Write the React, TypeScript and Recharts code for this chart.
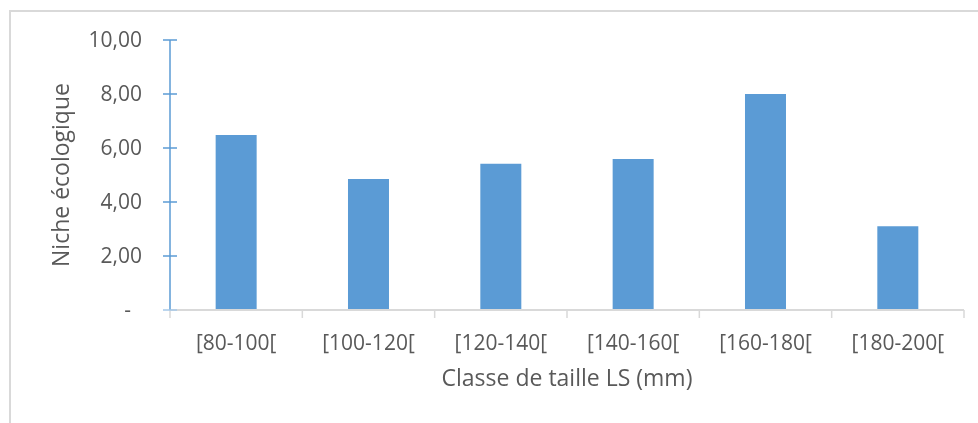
import { Bar, BarChart, Label, XAxis, YAxis } from "recharts";

const categories = ["[80-100[", "[100-120[", "[120-140[", "[140-160[", "[160-180[", "[180-200["];
const nicheValues = [6.48, 4.85, 5.42, 5.59, 8.0, 3.1];
const yTicks = [0, 2, 4, 6, 8, 10];

const data = categories.map((classe, i) => ({ classe, niche: nicheValues[i] }));

const FONT = "'Open Sans', sans-serif";
const TEXT = "#595959";
const BLUE = "#5b9bd5";
const GRID = "#d9d9d9";

const fmt = (v: number) => (v === 0 ? "-" : v.toFixed(2).replace(".", ","));

function YTick(props: any) {
  const { x, y, payload } = props;
  const isZero = payload.value === 0;
  return (
    <g>
      <line x1={x - 7} x2={x + 7} y1={y} y2={y} stroke={isZero ? "#a6c8e8" : BLUE} strokeWidth={1.5} />
      <text
        x={isZero ? x - 39 : x - 28}
        y={y}
        dy={7}
        textAnchor="end"
        fill={TEXT}
        fontSize={21}
        fontFamily={FONT}
      >
        {fmt(payload.value)}
      </text>
    </g>
  );
}

function XTick(props: any) {
  const { x, y, payload, index, visibleTicksCount } = props;
  const half = payload.offset ?? 66;
  const left = x - half;
  const right = x + half;
  return (
    <g>
      <line x1={left} x2={left} y1={y} y2={y + 8} stroke={GRID} strokeWidth={1.5} />
      {index === visibleTicksCount - 1 && (
        <line x1={right} x2={right} y1={y} y2={y + 8} stroke={GRID} strokeWidth={1.5} />
      )}
      <text x={x} y={y} dy={40} textAnchor="middle" fill={TEXT} fontSize={21} fontFamily={FONT}>
        {payload.value}
      </text>
    </g>
  );
}

function YLabel(props: any) {
  const vb = props.viewBox;
  const cx = 52;
  const cy = vb.y + vb.height / 2;
  return (
    <text
      x={cx}
      y={cy}
      transform={`rotate(-90 ${cx} ${cy})`}
      textAnchor="middle"
      dominantBaseline="central"
      fill={TEXT}
      fontSize={23}
      fontFamily={FONT}
    >
      Niche écologique
    </text>
  );
}

export default function App() {
  return (
    <div>
      <div
        style={{
          position: "fixed",
          left: 9,
          top: 10,
          right: 0,
          bottom: 0,
          borderTop: `2px solid ${GRID}`,
          borderLeft: `2px solid ${GRID}`,
          pointerEvents: "none",
        }}
      />
      <BarChart
        width={970}
        height={405}
        data={data}
        margin={{ top: 32, right: 14, left: 0, bottom: 0 }}
        barCategoryGap="34.5%"
      >
        <XAxis
          dataKey="classe"
          height={103}
          axisLine={{ stroke: GRID, strokeWidth: 2 }}
          tickLine={false}
          tickSize={0}
          tickMargin={0}
          tick={<XTick />}
          interval={0}
        >
          <Label
            value="Classe de taille LS (mm)"
            position="insideBottom"
            offset={27}
            fill={TEXT}
            fontSize={23}
            fontFamily={FONT}
          />
        </XAxis>
        <YAxis
          width={162}
          domain={[0, 10]}
          ticks={yTicks}
          interval={0}
          axisLine={{ stroke: BLUE, strokeWidth: 1.5 }}
          tickLine={false}
          tickSize={0}
          tickMargin={0}
          tick={<YTick />}
        >
          <Label content={<YLabel />} />
        </YAxis>
        <Bar dataKey="niche" fill={BLUE} isAnimationActive={false} />
      </BarChart>
    </div>
  );
}
